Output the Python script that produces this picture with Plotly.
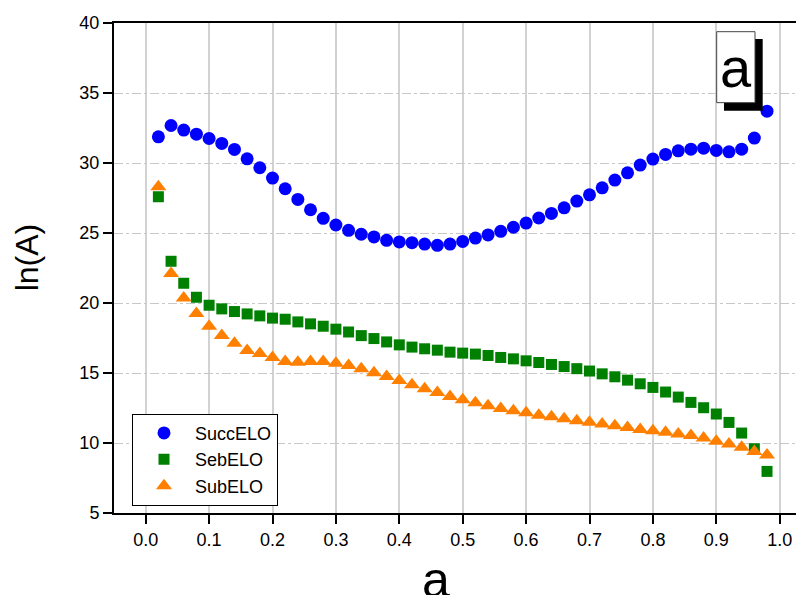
import plotly.graph_objects as go

x_vals = [0.02, 0.04, 0.06, 0.08, 0.10, 0.12, 0.14, 0.16, 0.18, 0.20,
          0.22, 0.24, 0.26, 0.28, 0.30, 0.32, 0.34, 0.36, 0.38, 0.40,
          0.42, 0.44, 0.46, 0.48, 0.50, 0.52, 0.54, 0.56, 0.58, 0.60,
          0.62, 0.64, 0.66, 0.68, 0.70, 0.72, 0.74, 0.76, 0.78, 0.80,
          0.82, 0.84, 0.86, 0.88, 0.90, 0.92, 0.94, 0.96, 0.98]

succ_elo = [31.87, 32.68, 32.35, 32.06, 31.75, 31.40, 30.97, 30.30, 29.66, 28.92,
            28.16, 27.40, 26.66, 26.05, 25.57, 25.19, 24.91, 24.72, 24.48, 24.36,
            24.31, 24.21, 24.12, 24.21, 24.40, 24.64, 24.86, 25.12, 25.41, 25.71,
            26.07, 26.40, 26.80, 27.28, 27.73, 28.23, 28.78, 29.30, 29.85, 30.28,
            30.61, 30.87, 30.99, 31.06, 30.90, 30.80, 30.99, 31.78, 33.70]

seb_elo = [27.59, 22.98, 21.41, 20.41, 19.84, 19.58, 19.39, 19.22, 19.08, 18.92,
           18.84, 18.65, 18.51, 18.34, 18.13, 17.93, 17.67, 17.46, 17.22, 17.01,
           16.85, 16.73, 16.63, 16.49, 16.42, 16.35, 16.25, 16.11, 16.01, 15.87,
           15.75, 15.61, 15.46, 15.31, 15.14, 14.94, 14.73, 14.49, 14.23, 13.97,
           13.64, 13.28, 12.90, 12.52, 12.07, 11.47, 10.71, 9.59, 7.97]

sub_elo = [28.30, 22.10, 20.36, 19.25, 18.34, 17.68, 17.13, 16.61, 16.39, 16.11,
           15.82, 15.77, 15.82, 15.82, 15.70, 15.53, 15.30, 15.01, 14.75, 14.47,
           14.16, 13.88, 13.61, 13.33, 13.09, 12.88, 12.66, 12.47, 12.30, 12.16,
           11.99, 11.88, 11.73, 11.59, 11.49, 11.35, 11.23, 11.11, 10.97, 10.88,
           10.76, 10.64, 10.54, 10.35, 10.12, 9.92, 9.69, 9.40, 9.14]

x_ticks = [0.0, 0.1, 0.2, 0.3, 0.4, 0.5, 0.6, 0.7, 0.8, 0.9, 1.0]
y_ticks = [5, 10, 15, 20, 25, 30, 35, 40]

FONT = "Liberation Sans, Arial, sans-serif"

fig = go.Figure()
fig.add_trace(go.Scatter(x=x_vals, y=succ_elo, mode="markers", name="SuccELO",
                         marker=dict(symbol="circle", size=13, color="#0000FF", line=dict(width=0))))
fig.add_trace(go.Scatter(x=x_vals, y=seb_elo, mode="markers", name="SebELO",
                         marker=dict(symbol="square", size=11, color="#008000", line=dict(width=0))))
fig.add_trace(go.Scatter(x=x_vals, y=sub_elo, mode="markers", name="SubELO",
                         marker=dict(symbol="triangle-up", size=14, color="#FF8000", line=dict(width=0))))

# page body has an 8px margin: work in screen coordinates and shift
OFF = 8
W, H = 804, 595 - OFF
L, T = 114 - OFF, 23 - OFF
R = 0
B = H - (513.3 - OFF)
PW, PH = W - L - R, H - T - B


def px(xs):
    return (xs - OFF - L) / PW


def py(ys):
    return (H - B - (ys - OFF)) / PH


fig.update_layout(
    template="none",
    width=W, height=H,
    margin=dict(l=L, r=R, t=T, b=B, pad=0, autoexpand=False),
    paper_bgcolor="white", plot_bgcolor="white",
    font=dict(family=FONT, color="black"),
    showlegend=True,
    legend=dict(x=px(132), y=py(414), xanchor="left", yanchor="top",
                bgcolor="white", bordercolor="black", borderwidth=1,
                font=dict(size=18, family=FONT), itemwidth=52,
                tracegroupgap=0),
    xaxis=dict(range=[-0.05, -0.05 + PW / 634.0], tickvals=x_ticks, tickformat=".1f",
               showgrid=True, gridcolor="#d2d2d2", gridwidth=1.5,
               showline=True, linecolor="black", linewidth=2, mirror=True,
               ticks="outside", ticklen=9, tickwidth=2, tickcolor="black",
               tickfont=dict(size=18, family=FONT), zeroline=False, fixedrange=True,
               automargin=False),
    yaxis=dict(range=[5, 40], tickvals=y_ticks,
               showgrid=True, gridcolor="#c8c8c8", gridwidth=1, griddash="dashdot",
               showline=True, linecolor="black", linewidth=2, mirror=False,
               ticks="outside", ticklen=9, tickwidth=2, tickcolor="black",
               tickfont=dict(size=18, family=FONT), zeroline=False, fixedrange=True,
               automargin=False),
)

# axis line extensions to the left of the y axis (Origin style)
for yy in (0, 1):
    fig.add_shape(type="line", xref="paper", yref="paper", x0=px(104), x1=0, y0=yy, y1=yy,
                  line=dict(color="black", width=2))

# panel label box with shadow
fig.add_shape(type="rect", xref="paper", yref="paper",
              x0=px(724), x1=px(762.7), y0=py(110.7), y1=py(39),
              fillcolor="black", line=dict(width=0))
fig.add_shape(type="rect", xref="paper", yref="paper",
              x0=px(716.7), x1=px(755), y0=py(102.7), y1=py(31.7),
              fillcolor="white", line=dict(color="#444444", width=1))
fig.add_annotation(text="a", xref="paper", yref="paper", x=px(735.8), y=py(67.5),
                   xanchor="center", yanchor="middle", showarrow=False,
                   font=dict(size=56, family=FONT, color="black"))

# axis titles
fig.add_annotation(text="a", xref="paper", yref="paper", x=px(435.7), y=py(580),
                   xanchor="center", yanchor="middle", showarrow=False,
                   font=dict(size=50, family=FONT, color="black"))
fig.add_annotation(text="ln(A)", xref="paper", yref="paper", x=px(26.5), y=py(258),
                   xanchor="center", yanchor="middle", showarrow=False, textangle=-90,
                   font=dict(size=32, family=FONT, color="black"))

fig.write_html("out.html")
